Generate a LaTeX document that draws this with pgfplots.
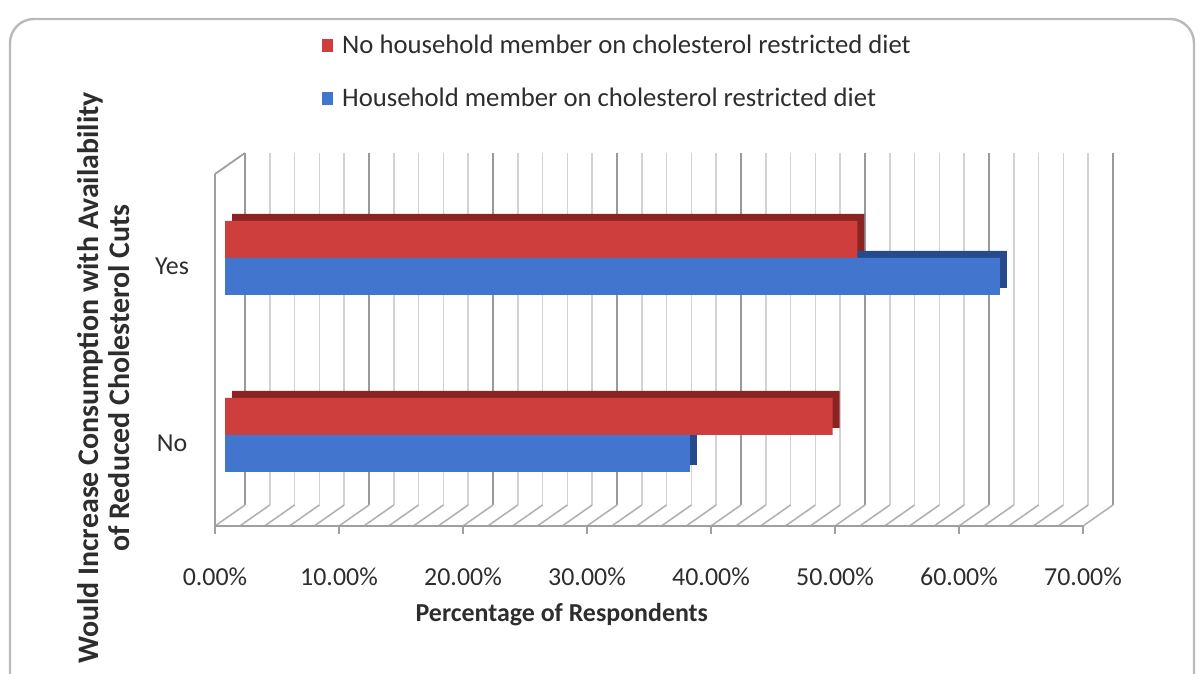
\documentclass[border=0pt]{standalone}
\usepackage{pgfplots}
\pgfplotsset{compat=1.18}
\usepackage{fontspec}
\setmainfont{Carlito}
\definecolor{redF}{RGB}{205,62,60}
\definecolor{redD}{RGB}{140,35,35}
\definecolor{blueF}{RGB}{66,117,205}
\definecolor{blueD}{RGB}{38,75,140}
\definecolor{txt}{RGB}{45,45,45}
\begin{document}
\begin{tikzpicture}
\useasboundingbox (0,0) rectangle (600bp,337bp);
\draw[gray!55, line width=1.2bp, rounded corners=12bp] (5bp,-20bp) -- (5bp,327.5bp) -- (597bp,327.5bp) -- (597bp,-20bp);
\begin{axis}[
  at={(122.5bp,84.5bp)}, anchor=south west,
  scale only axis, width=434bp, height=176bp,
  xmin=0, xmax=70, ymin=-505, ymax=-153,
  clip=false,
  axis line style={draw=none},
  major tick length=0pt, minor tick length=0pt,
  xtick={0,10,...,70},
  minor x tick num=4,
  xmajorgrids, xminorgrids,
  major grid style={gray!80, line width=0.8bp},
  minor grid style={gray!35, line width=0.8bp},
  xticklabels={0.00\%,10.00\%,20.00\%,30.00\%,40.00\%,50.00\%,60.00\%,70.00\%},
  xticklabel style={anchor=center, xshift=-15bp, yshift=-36bp, text=txt, font=\fontsize{13}{15}\selectfont},
  ytick={-244,-421}, yticklabels={Yes,No},
  yticklabel style={anchor=center, xshift=-36.5bp, yshift=-11bp, text=txt, font=\fontsize{13}{15}\selectfont},
  xlabel={Percentage of Respondents},
  xlabel style={at={(axis description cs:0.365,-0.31)}, anchor=center, text=txt, font=\bfseries\fontsize{13}{15}\selectfont},
  ylabel={Would Increase Consumption with Availability\\of Reduced Cholesterol Cuts},
  ylabel style={at={(axis description cs:-0.163,0.361)}, anchor=center, align=center, text=txt, font=\bfseries\fontsize{15}{15.5}\selectfont},
  legend style={at={(axis description cs:0.0887,1.23)}, anchor=west, draw=none, fill=none, inner sep=0pt, row sep=12bp, text=txt, font=\fontsize{13.4}{15}\selectfont,
    /tikz/every odd column/.append style={column sep=2.5bp}},
  legend cell align=left,
]
% floor diagonals
\addplot[gray!60, line width=0.8bp, quiver={u=-2.42, v=-21}, forget plot, mark=none] coordinates {
(0,-505) (2,-505) (4,-505) (6,-505) (8,-505) (10,-505) (12,-505) (14,-505) (16,-505) (18,-505)
(20,-505) (22,-505) (24,-505) (26,-505) (28,-505) (30,-505) (32,-505) (34,-505) (36,-505) (38,-505)
(40,-505) (42,-505) (44,-505) (46,-505) (48,-505) (50,-505) (52,-505) (54,-505) (56,-505) (58,-505)
(60,-505) (62,-505) (64,-505) (66,-505) (68,-505) (70,-505)};
% front floor line and left wall
\addplot[gray!75, line width=0.9bp, forget plot, mark=none] coordinates {(-2.42,-174) (-2.42,-526) (67.58,-526)};
\addplot[gray!75, line width=0.9bp, forget plot, mark=none] coordinates {(-2.42,-174) (0,-153)};
% front ticks
\addplot[gray!75, line width=0.9bp, quiver={u=0, v=-8}, forget plot, mark=none] coordinates {
(-2.42,-526) (7.58,-526) (17.58,-526) (27.58,-526) (37.58,-526) (47.58,-526) (57.58,-526) (67.58,-526)};
% bar depth faces
\addplot[xbar, bar width=18.5bp, bar shift=-9.25bp, fill=blueD, draw=none, xshift=-6.5bp, yshift=-3.5bp, forget plot]
  coordinates {(62.5,-244) (37.5,-421)};
\addplot[xbar, bar width=18.5bp, bar shift=9.25bp, fill=redD, draw=none, xshift=-6.5bp, yshift=-3.5bp, forget plot]
  coordinates {(51.0,-244) (49.0,-421)};
% bar front faces
\addplot[xbar, bar width=18.5bp, bar shift=9.25bp, fill=redF, draw=none, xshift=-10bp, yshift=-7bp, forget plot]
  coordinates {(51.0,-244) (49.0,-421)};
\addplot[xbar, bar width=18.5bp, bar shift=-9.25bp, fill=blueF, draw=none, xshift=-10bp, yshift=-7bp, forget plot]
  coordinates {(62.5,-244) (37.5,-421)};
\addlegendimage{legend image code/.code={\fill[redF] (0bp,-3bp) rectangle (5bp,3bp);}}
\addlegendentry{No household member on cholesterol restricted diet}
\addlegendimage{legend image code/.code={\fill[blueF] (0bp,-3bp) rectangle (5bp,3bp);}}
\addlegendentry{Household member on cholesterol restricted diet}
\end{axis}
\end{tikzpicture}
\end{document}
